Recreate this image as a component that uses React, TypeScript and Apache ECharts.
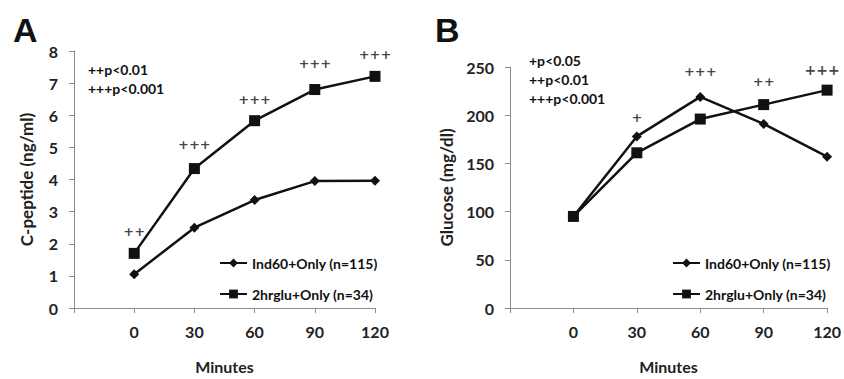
import React, { useEffect, useRef } from "react";
import * as echarts from "echarts";

const minutes = [0, 30, 60, 90, 120];
const seriesNames = ["Ind60+Only (n=115)", "2hrglu+Only (n=34)"];

// Panel A: C-peptide (ng/ml)
const cpepInd60 = [1.05, 2.5, 3.36, 3.95, 3.96];
const cpep2hrglu = [1.7, 4.34, 5.83, 6.8, 7.21];
const cpepMarks = ["++", "+++", "+++", "+++", "+++"];
const cpepMarkY = [2.38, 5.09, 6.5, 7.6, 7.9];
const cpepPText = ["++p<0.01", "+++p<0.001"];

// Panel B: Glucose (mg/dl)
const gluInd60 = [95, 178, 219, 191, 157];
const glu2hrglu = [95, 161, 196, 211, 226];
const gluMarks = ["+", "+++", "++", "+++"];
const gluMarkX = [30, 60, 90, 120];
const gluMarkY = [198, 245, 235, 247];
const gluPText = ["+p<0.05", "++p<0.01", "+++p<0.001"];

const FONT = "Lato, 'Open Sans', sans-serif";
const MARKFONT = "'DejaVu Sans', sans-serif";
const INK = "#111111";
const AXIS = "#8c8c8c";

function xAxisOpt(gridIndex: number) {
  return {
    type: "value",
    gridIndex,
    min: -30,
    max: 120,
    interval: 30,
    name: "Minutes",
    nameLocation: "middle",
    nameGap: 50,
    nameTextStyle: { fontFamily: FONT, fontWeight: "bold", fontSize: 16, color: "#222" },
    axisLine: { show: true, onZero: false, lineStyle: { color: AXIS, width: 1 } },
    axisTick: { show: true, length: 5, lineStyle: { color: AXIS } },
    splitLine: { show: false },
    axisLabel: {
      margin: 15,
      fontFamily: FONT,
      fontWeight: "bold",
      fontSize: 16,
      color: "#222",
      formatter: (v: number) => (v < 0 ? "" : String(v)),
    },
  };
}

function yAxisOpt(gridIndex: number, max: number, interval: number, name: string, nameGap: number) {
  return {
    type: "value",
    gridIndex,
    min: 0,
    max,
    interval,
    name,
    nameLocation: "middle",
    nameGap,
    nameTextStyle: { fontFamily: FONT, fontWeight: "bold", fontSize: 17, color: "#222" },
    axisLine: { show: true, onZero: false, lineStyle: { color: AXIS, width: 1 } },
    axisTick: { show: true, length: 5, lineStyle: { color: AXIS } },
    splitLine: { show: false },
    axisLabel: {
      margin: 16,
      fontFamily: FONT,
      fontWeight: "bold",
      fontSize: 16,
      color: "#222",
    },
  };
}

function lineSeries(name: string, gridIdx: number, data: number[], symbol: string, size: number) {
  return {
    type: "line",
    name,
    xAxisIndex: gridIdx,
    yAxisIndex: gridIdx,
    data: minutes.map((m, i) => [m, data[i]]),
    symbol,
    symbolSize: size,
    showAllSymbol: true,
    lineStyle: { color: INK, width: 2.5 },
    itemStyle: { color: INK },
    z: symbol === "rect" ? 3 : 4,
  };
}

function markSeries(gridIdx: number, xs: number[], ys: number[], labels: string[], bigLast: boolean) {
  return {
    type: "scatter",
    xAxisIndex: gridIdx,
    yAxisIndex: gridIdx,
    symbolSize: 0,
    silent: true,
    itemStyle: { color: INK },
    data: xs.map((x, i) => {
      const last = bigLast && i === xs.length - 1;
      return {
        value: [x, ys[i]],
        label: {
          show: true,
          position: "inside",
          offset: last ? [-5, 0] : [0, 0],
          formatter: labels[i],
          fontFamily: MARKFONT,
          fontWeight: "bold",
          fontSize: last ? 14 : 13,
          color: INK,
          textBorderWidth: 0,
          textBorderColor: "transparent",
        },
      };
    }),
  };
}

export default function App() {
  const ref = useRef<HTMLDivElement>(null);
  useEffect(() => {
    if (!ref.current) return;
    const chart = echarts.init(ref.current, undefined, { renderer: "svg" });
    const legendCommon = {
      orient: "vertical",
      itemWidth: 27,
      itemHeight: 11,
      itemGap: 17,
      textStyle: { fontFamily: FONT, fontWeight: "bold", fontSize: 14, color: INK },
      data: seriesNames,
      selectedMode: false,
    };
    chart.setOption({
      animation: false,
      backgroundColor: "#fff",
      grid: [
        { left: 74, top: 51, width: 301, height: 263 },
        { left: 510, top: 67, width: 320, height: 245 },
      ],
      xAxis: [xAxisOpt(0), xAxisOpt(1)],
      yAxis: [
        yAxisOpt(0, 8, 1, "C-peptide (ng/ml)", 39),
        yAxisOpt(1, 250, 50, "Glucose (mg/dl)", 55),
      ],
      legend: [
        { ...legendCommon, left: 214, top: 251 },
        { ...legendCommon, left: 667, top: 251 },
      ],
      series: [
        lineSeries(seriesNames[1], 0, cpep2hrglu, "rect", 11),
        lineSeries(seriesNames[0], 0, cpepInd60, "diamond", 10),
        lineSeries(seriesNames[1], 1, glu2hrglu, "rect", 11),
        lineSeries(seriesNames[0], 1, gluInd60, "diamond", 10),
        markSeries(0, minutes, cpepMarkY, cpepMarks, false),
        markSeries(1, gluMarkX, gluMarkY, gluMarks, true),
      ],
      graphic: [
        {
          type: "text",
          left: 13,
          top: 13,
          style: { text: "A", fontFamily: "'Liberation Sans', Arial, sans-serif", fontWeight: "bold", fontSize: 34, fill: "#111" },
        },
        {
          type: "text",
          left: 435,
          top: 13,
          style: { text: "B", fontFamily: "'Liberation Sans', Arial, sans-serif", fontWeight: "bold", fontSize: 34, fill: "#111" },
        },
        ...cpepPText.map((t, i) => ({
          type: "text",
          left: 88,
          top: 62 + i * 19,
          style: { text: t, fontFamily: FONT, fontWeight: "bold", fontSize: 14, fill: INK },
        })),
        ...gluPText.map((t, i) => ({
          type: "text",
          left: 529,
          top: 53 + i * 19,
          style: { text: t, fontFamily: FONT, fontWeight: "bold", fontSize: 14, fill: INK },
        })),
      ],
    });
    return () => chart.dispose();
  }, []);
  return <div ref={ref} style={{ width: 844, height: 379, position: "absolute", left: 0, top: 0 }} />;
}
